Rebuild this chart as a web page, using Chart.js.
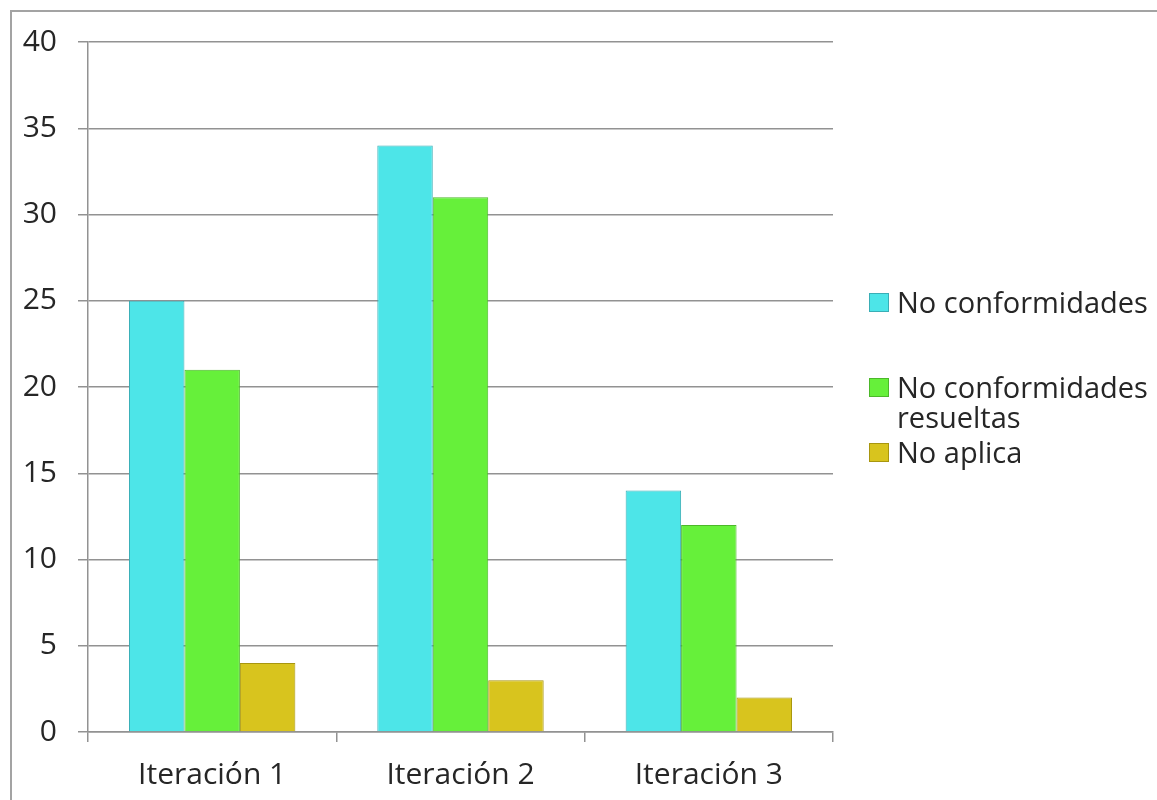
<!DOCTYPE html>
<html>
<head>
<meta charset="utf-8">
<script src="https://cdn.jsdelivr.net/npm/chart.js@4/dist/chart.umd.min.js"></script>
<style>
  html, body { margin: 0; padding: 0; background: #fff; }
  #wrap { position: relative; width: 1157px; height: 800px; overflow: hidden; }
  #frame { position: absolute; left: 10px; top: 10px; width: 1200px; height: 900px;
           border-left: 2px solid #a3a3a3; border-top: 2px solid #a3a3a3; box-sizing: border-box; }
  canvas { position: absolute; left: 0; top: 0; }
  .leg { position: absolute; left: 869px; font-family: "Open Sans", "Noto Sans", sans-serif; font-size: 29px;
         color: #262626; line-height: 30px; }
  .leg .sw { position: absolute; left: 0; width: 20px; height: 19px; top: 6px; box-sizing: border-box; }
  .leg .tx { position: absolute; left: 28px; white-space: nowrap; }
</style>
</head>
<body>
<div id="wrap">
  <div id="frame"></div>
  <canvas id="c" width="1157" height="800"></canvas>
  <div id="legend"></div>
</div>
<script>
const categories = ["Iteración 1", "Iteración 2", "Iteración 3"];
const seriesNames = ["No conformidades", "No conformidades resueltas", "No aplica"];
const noConformidades = [25, 34, 14];
const noConformidadesResueltas = [21, 31, 12];
const noAplica = [4, 3, 2];
const yTicks = [0, 5, 10, 15, 20, 25, 30, 35, 40];

const fills = ["#4de5e8", "#66f03a", "#d8c41e"];
const borders = ["#3aaeb6", "#4cb82a", "#a8960f"];
const legendLines = [["No conformidades"], ["No conformidades", "resueltas"], ["No aplica"]];
const legendTops = [287, 372, 437];

const font = "'Open Sans', 'Noto Sans', sans-serif";
const seriesValues = [noConformidades, noConformidadesResueltas, noAplica];

const chart = new Chart(document.getElementById("c"), {
  type: "bar",
  data: {
    labels: categories,
    datasets: seriesValues.map((vals, i) => ({
      label: seriesNames[i],
      data: vals,
      backgroundColor: fills[i],
      borderColor: borders[i],
      borderWidth: 1,
      categoryPercentage: 0.67,
      barPercentage: 1.0
    }))
  },
  options: {
    responsive: false,
    devicePixelRatio: 1,
    animation: false,
    layout: { padding: { left: 10, top: 42, right: 324, bottom: 0 } },
    plugins: { legend: { display: false }, tooltip: { enabled: false } },
    scales: {
      x: {
        grid: { display: true, drawOnChartArea: false, drawTicks: true, tickLength: 10,
                color: "#929292", lineWidth: 1.5, offset: true },
        border: { display: true, color: "#929292", width: 1.5 },
        ticks: { font: { family: font, size: 30 }, color: "#262626", padding: 15 },
        afterFit: (s) => { s.height = 68; }
      },
      y: {
        min: 0, max: 40,
        afterBuildTicks: (s) => { s.ticks = yTicks.map(v => ({ value: v })); },
        grid: { color: "#929292", lineWidth: 1.5, drawTicks: true, tickLength: 10 },
        border: { display: true, color: "#929292", width: 1.5 },
        ticks: { font: { family: font, size: 30 }, color: "#262626", padding: 21 },
        afterFit: (s) => { s.width = 78; }
      }
    }
  }
});

const legend = document.getElementById("legend");
legendLines.forEach((lines, i) => {
  const d = document.createElement("div");
  d.className = "leg";
  d.style.top = legendTops[i] + "px";
  d.innerHTML = '<div class="sw" style="background:' + fills[i] + ';border:1px solid ' + borders[i] + '"></div>' +
    '<div class="tx">' + lines.join("<br>") + '</div>';
  legend.appendChild(d);
});
</script>
</body>
</html>
